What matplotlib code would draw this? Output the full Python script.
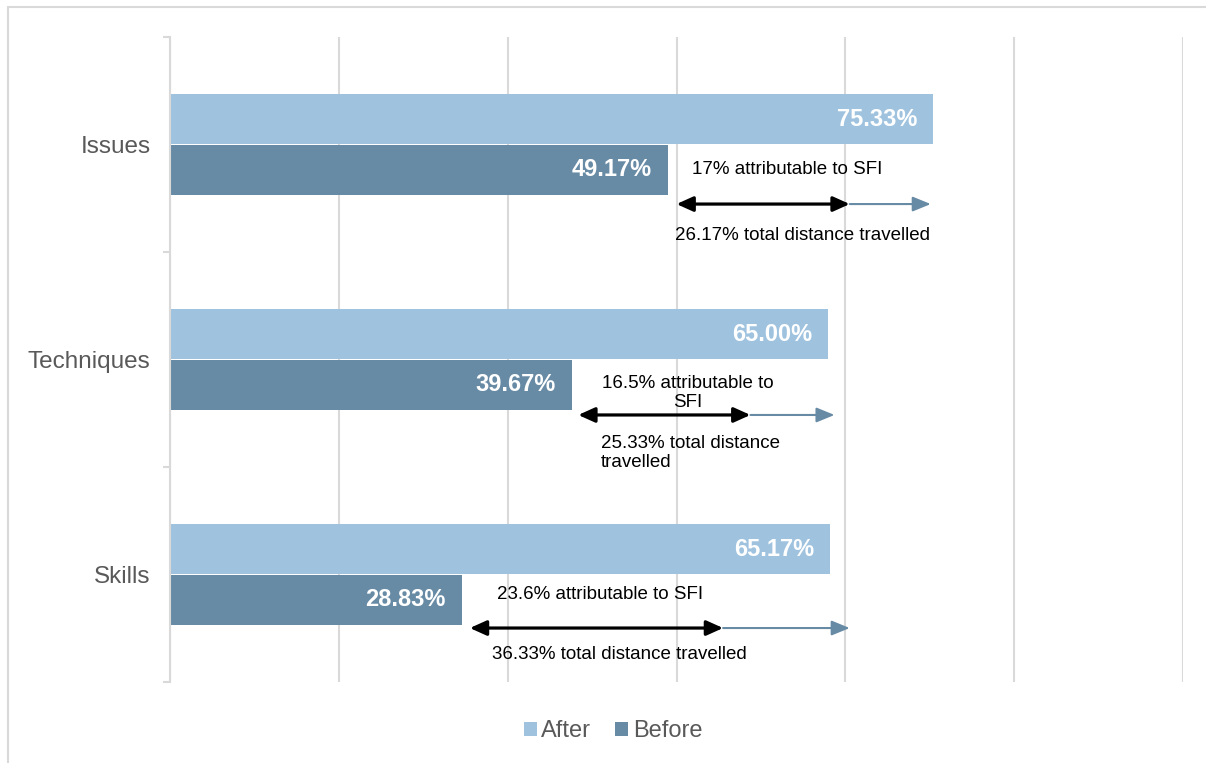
import matplotlib.pyplot as plt
import matplotlib.patches as patches
import numpy as np

plt.rcParams['font.family'] = ['Liberation Sans', 'DejaVu Sans']

# Datos
categories = ['Issues', 'Techniques', 'Skills']
after = [75.33, 65.00, 65.17]
before = [49.17, 39.67, 28.83]

# Flechas: inicio, fin atribuible a SFI, fin distancia total
arrow_start = [50.0, 40.3, 29.6]
arrow_sfi = [67.1, 57.3, 54.6]
arrow_total = [75.1, 65.6, 67.1]
sfi_labels = ['17% attributable to SFI', '16.5% attributable to\nSFI', '23.6% attributable to SFI']
total_labels = ['26.17% total distance travelled', '25.33% total distance\ntravelled',
                '36.33% total distance travelled']

C_AFTER = '#9FC3DF'
C_BEFORE = '#688BA5'
GRID = '#D9D9D9'
TXT = '#595959'

fig = plt.figure(figsize=(12.06, 7.63), dpi=100)
ax = fig.add_axes([170 / 1206, 1 - 682 / 763, 1013 / 1206, 645 / 763])

# Borde del gráfico
fig.add_artist(patches.Rectangle((8 / 1206, -0.01), 1.0, 1 - 7 / 763 + 0.01,
                                 transform=fig.transFigure, fill=False,
                                 edgecolor=GRID, linewidth=1.5))

y = np.arange(len(categories))
h = 0.233
off = 0.117
ax.barh(y - off, after, height=h, color=C_AFTER, label='After', zorder=2)
ax.barh(y + off, before, height=h, color=C_BEFORE, label='Before', zorder=2)

for i in range(len(categories)):
    ax.text(after[i] - 1.6, y[i] - off, f'{after[i]:.2f}%', ha='right', va='center',
            color='white', fontsize=17, fontweight='bold', zorder=3)
    ax.text(before[i] - 1.6, y[i] + off, f'{before[i]:.2f}%', ha='right', va='center',
            color='white', fontsize=17, fontweight='bold', zorder=3)

ax.set_xlim(0, 100)
ax.set_ylim(2.5, -0.5)
ax.set_xticks(np.linspace(0, 100, 7))
ax.set_xticklabels([])
ax.tick_params(axis='x', length=0)
ax.grid(True, axis='x', color=GRID, linewidth=1.5, zorder=0)
ax.set_yticks(y)
ax.set_yticklabels(categories, fontsize=17.5, color=TXT)
ax.set_yticks([-0.5, 0.5, 1.5, 2.5], minor=True)
ax.tick_params(axis='y', which='major', length=0, pad=14)
ax.tick_params(axis='y', which='minor', length=5, color=GRID, width=1.5)
for s in ['top', 'right', 'bottom']:
    ax.spines[s].set_visible(False)
ax.spines['left'].set_color(GRID)
ax.spines['left'].set_linewidth(1.5)

# Anotaciones
arrow_y = [0.277, 0.258, 0.249]
sfi_pos = [(60.9, 0.114, 'center'), (51.1, 0.158, 'center'), (42.5, 0.095, 'center')]
tot_pos = [(62.4, 0.421, 'center'), (42.5, 0.437, 'left'), (44.4, 0.370, 'center')]
for i in range(len(categories)):
    ay = y[i] + arrow_y[i]
    ax.annotate('', xy=(arrow_total[i], ay), xytext=(arrow_sfi[i], ay),
                arrowprops=dict(arrowstyle='-|>,head_length=1.1,head_width=0.45',
                                color=C_BEFORE, lw=1.5, shrinkA=0, shrinkB=0), zorder=4)
    ax.annotate('', xy=(arrow_sfi[i], ay), xytext=(arrow_start[i], ay),
                arrowprops=dict(arrowstyle='<|-|>,head_length=1.0,head_width=0.45',
                                color='black', lw=2.3, shrinkA=0, shrinkB=0), zorder=5)
    sx, sy, sha = sfi_pos[i]
    ax.text(sx, y[i] + sy, sfi_labels[i], ha=sha, va='center', fontsize=13.5,
            color='black', linespacing=1.15, multialignment='center', zorder=5)
    tx, ty, tha = tot_pos[i]
    ax.text(tx, y[i] + ty, total_labels[i], ha=tha, va='center', fontsize=13.5,
            color='black', linespacing=1.15, multialignment='left', zorder=5)

leg = fig.legend(loc='center', bbox_to_anchor=(613 / 1206, 1 - 731 / 763), ncol=2,
                 frameon=False, fontsize=17, handlelength=0.55, handleheight=0.55,
                 handletextpad=0.2, columnspacing=1.0)
for t in leg.get_texts():
    t.set_color(TXT)

plt.savefig('out.png', dpi=100, facecolor='white')
print("OK: out.png saved")
